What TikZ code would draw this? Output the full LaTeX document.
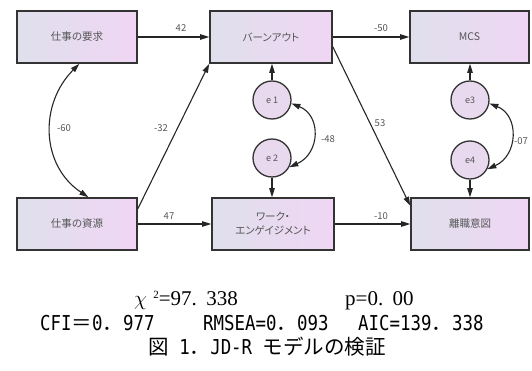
\documentclass[tikz,border=0pt]{standalone}
\usepackage{fix-cm}
\usepackage{fontspec}
\setmainfont{Liberation Serif}
\newfontfamily\cjk{Noto Sans CJK JP}
\newfontfamily\cjkp[RawFeature=+palt]{Noto Sans CJK JP}
\newfontfamily\gmono[FakeStretch=0.85]{DejaVu Sans Mono}
\usetikzlibrary{arrows.meta}

\definecolor{boxleft}{HTML}{DFE0EC}
\definecolor{boxright}{HTML}{F0D6F4}
\definecolor{errfill}{HTML}{E9D9EE}
\definecolor{edge}{HTML}{333333}
\definecolor{labelgray}{HTML}{555555}

\begin{document}
\begin{tikzpicture}[x=1pt,y=-1pt,
  varbox/.style={draw=edge, line width=1.6pt, left color=boxleft, right color=boxright,
    minimum width=120pt, minimum height=52pt, inner sep=0pt,
    font=\cjkp\fontsize{10.5}{14}\selectfont, text=labelgray, align=center},
  errcirc/.style={circle, draw=edge, line width=1.3pt, fill=errfill, minimum size=38pt,
    inner sep=0pt, font=\cjkp\fontsize{9}{10}\selectfont, text=labelgray},
  regarrow/.style={draw=black!85, line width=1.1pt, -{Triangle[length=9pt,width=5.5pt]}},
  covarrow/.style={draw=black!85, line width=1.1pt,
    {Triangle[length=9pt,width=5.5pt]}-{Triangle[length=9pt,width=5.5pt]}},
  coef/.style={font=\cjk\fontsize{9.5}{11}\selectfont, text=labelgray, inner sep=1pt},
  fitline/.style={inner sep=0pt, font=\fontsize{21}{24}\selectfont},
  gothline/.style={inner sep=0pt, font=\gmono\fontsize{20.5}{24}\selectfont},
]
\useasboundingbox (0,0) rectangle (532,371);

% observed variables
\node[varbox] (demand) at (77,37) {仕事の要求};
\node[varbox, minimum width=122pt] (burnout) at (271,37) {バーンアウト};
\node[varbox, minimum width=119pt] (mcs) at (469.5,37) {MCS};
\node[varbox] (resource) at (77,224) {仕事の資源};
\node[varbox, minimum width=122pt] (engage) at (273,224) {ワーク・\\エンゲイジメント};
\node[varbox, minimum width=118pt] (quit) at (470,224) {離職意図};

% error terms
\node[errcirc] (e1) at (272,100) {e 1};
\node[errcirc] (e2) at (272,158) {e 2};
\node[errcirc] (e3) at (470,100) {e3};
\node[errcirc] (e4) at (470,160) {e4};

% paths
\draw[regarrow] (demand) -- (burnout);
\draw[regarrow] (resource.14) -- (burnout.south west);
\draw[regarrow] (resource) -- (engage);
\draw[regarrow] (burnout) -- (mcs);
\draw[regarrow] (burnout.-9) -- (quit.163);
\draw[regarrow] (engage) -- (quit);
\draw[regarrow] (e1) -- (e1 |- burnout.south);
\draw[regarrow] (e2) -- (e2 |- engage.north);
\draw[regarrow] (e3) -- (e3 |- mcs.south);
\draw[regarrow] (e4) -- (e4 |- quit.north);

% covariances
\draw[covarrow] (demand.-85) .. controls +(-40,40) and +(-48,-32) .. (resource.67);
\draw[covarrow] (e1.-10) .. controls +(30,12) and +(31,-14) .. (e2.-28);
\draw[covarrow] (e3.-10) .. controls +(30,12) and +(31,-14) .. (e4.-28);

% coefficients
\node[coef] (c1) at (181,28) {42};
\node[coef] (c2) at (161,128) {-32};
\node[coef] (c3) at (64,128) {-60};
\node[coef] (c4) at (381,28) {-50};
\node[coef] (c5) at (380,123) {53};
\node[coef] (c6) at (169,216) {47};
\node[coef] (c7) at (381,216) {-10};
\node[coef] (c8) at (328,139) {-48};
\node[coef] (c9) at (521,141) {-07};

% fit indices and caption
\node[fitline, anchor=base west] (chi) at (134,305)
  {$\chi$\hspace{0.3em}\raisebox{7pt}{\fontsize{11}{11}\selectfont 2}=97.\hspace{0.45em}338};
\node[fitline, anchor=base west] (pval) at (345,305) {p=0.\hspace{0.45em}00};
\node[gothline, anchor=base west] (cfi) at (40,330) {CFI{\cjk ＝}0{\cjk ．}977};
\node[gothline, anchor=base west] (rmsea) at (203,330) {RMSEA=0{\cjk ．}093};
\node[gothline, anchor=base west] (aic) at (358,330) {AIC=139{\cjk ．}338};
\node[gothline, anchor=base] (caption) at (267,354) {{\cjk 図} 1{\cjk ．}JD-R {\cjk モデルの検証}};
\end{tikzpicture}
\end{document}
